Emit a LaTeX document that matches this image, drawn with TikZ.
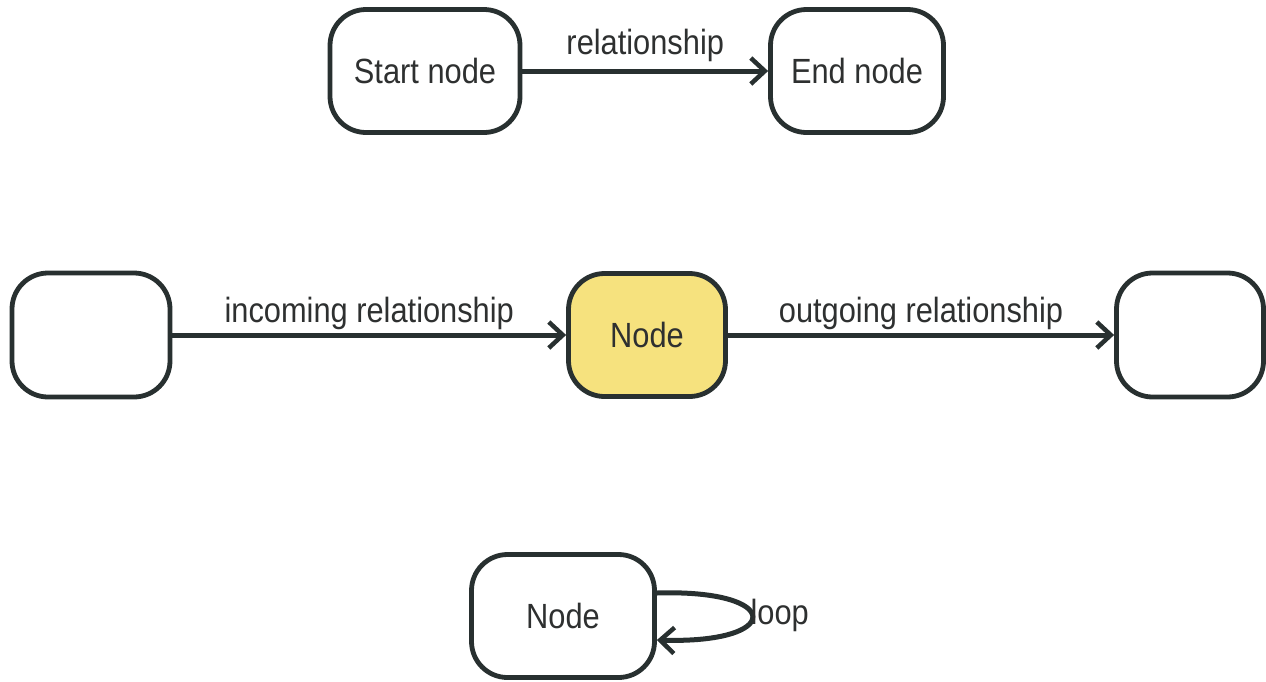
\documentclass[tikz,border=0pt]{standalone}
\usepackage{fontspec}
\setmainfont{Liberation Sans}[FakeStretch=0.88]
\usetikzlibrary{arrows.meta}
\definecolor{ink}{HTML}{283030}
\definecolor{txt}{HTML}{2E3030}
\definecolor{hilite}{HTML}{F6E27E}
\tikzset{
  box/.style={draw=ink, line width=4.8pt, rounded corners=36pt, fill=white,
    inner sep=0pt, text=txt, font=\fontsize{35}{42}\selectfont},
  rel/.style={draw=ink, line width=5pt,
    -{Straight Barb[length=14pt, width=26pt, line width=4.5pt]}},
  lbl/.style={text=txt, font=\fontsize{35}{42}\selectfont, inner sep=0pt}
}
\begin{document}
\begin{tikzpicture}[x=1pt, y=-1pt]
\useasboundingbox (0,0) rectangle (1266,681);

% relationship between two nodes
\node[box, minimum width=190pt, minimum height=123pt] (start) at (425,71) {Start node};
\node[box, minimum width=173pt, minimum height=123pt] (end) at (857,71) {End node};
\draw[rel] (start) -- node[lbl, midway, anchor=base, yshift=17pt] (r1) {relationship} (end);

% incoming and outgoing relationships
\node[box, minimum width=158pt, minimum height=124pt] (src) at (91,335) {};
\node[box, fill=hilite, minimum width=157pt, minimum height=123pt] (mid) at (647,335) {Node};
\node[box, minimum width=147pt, minimum height=124pt] (dst) at (1190,335) {};
\draw[rel] (src) -- node[lbl, midway, anchor=base, yshift=13pt] (r2) {incoming relationship} (mid);
\draw[rel] (mid) -- node[lbl, midway, anchor=base, yshift=13pt] (r3) {outgoing relationship} (dst);

% self loop
\node[box, minimum width=183pt, minimum height=123pt] (self) at (563,616) {Node};
\draw[rel] ([yshift=23pt]self.east) .. controls +(127,-4) and +(127,4) .. ([yshift=-24pt]self.east)
  node[lbl, pos=0.5, anchor=base west, xshift=-4pt, yshift=-8pt] (r4) {loop};
\end{tikzpicture}
\end{document}
